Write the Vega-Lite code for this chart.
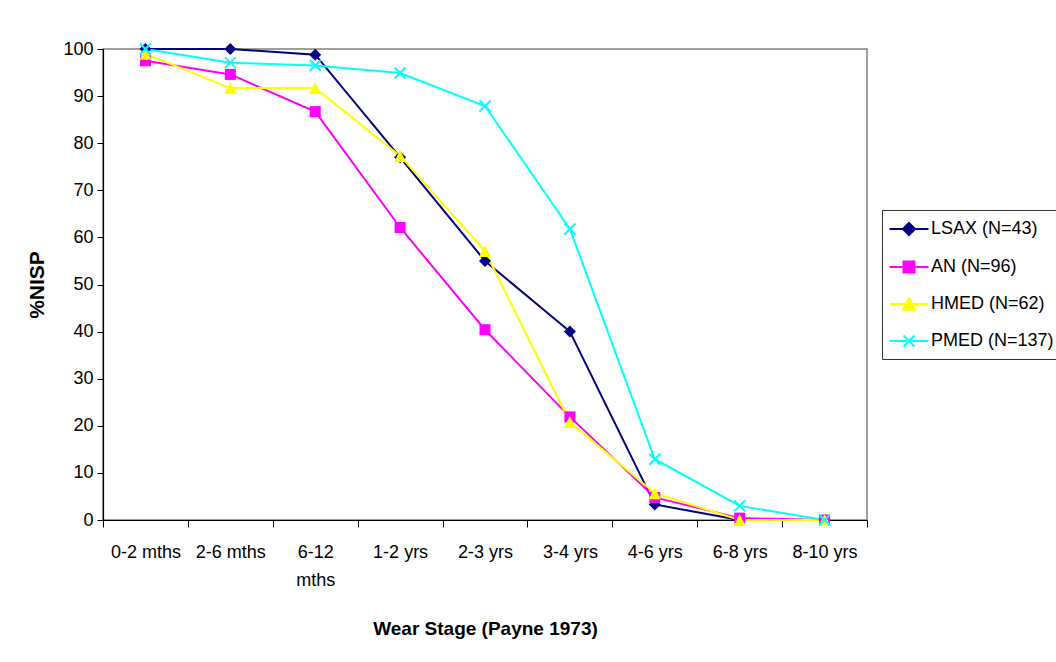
{
  "$schema": "https://vega.github.io/schema/vega-lite/v6.json",
  "autosize": {"type": "none"},
  "padding": {"left": 103, "top": 49, "right": 189, "bottom": 142},
  "width": 764,
  "height": 471,
  "background": "white",
  "config": {
    "font": "Liberation Sans",
    "view": {"stroke": "#808080", "strokeWidth": 1.5},
    "axis": {
      "labelFont": "Liberation Sans",
      "titleFont": "Liberation Sans",
      "labelColor": "black",
      "titleColor": "black",
      "domainColor": "black",
      "tickColor": "black",
      "grid": false
    },
    "legend": {
      "orient": "none",
      "legendX": 779,
      "legendY": 161,
      "padding": 8,
      "rowPadding": 16,
      "symbolOffset": 8,
      "labelOffset": 11,
      "symbolSize": 380,
      "symbolStrokeWidth": 2,
      "symbolOpacity": 1,
      "strokeColor": "#333333",
      "fillColor": "white",
      "labelFont": "Liberation Sans",
      "labelFontSize": 18,
      "labelColor": "black"
    }
  },
  "data": {
    "values": [
      {"stage": "0-2 mths", "series": "LSAX (N=43)", "pct": 100},
      {"stage": "2-6 mths", "series": "LSAX (N=43)", "pct": 100},
      {"stage": "6-12 mths", "series": "LSAX (N=43)", "pct": 98.8},
      {"stage": "1-2 yrs", "series": "LSAX (N=43)", "pct": 77.0},
      {"stage": "2-3 yrs", "series": "LSAX (N=43)", "pct": 55.0},
      {"stage": "3-4 yrs", "series": "LSAX (N=43)", "pct": 40.0},
      {"stage": "4-6 yrs", "series": "LSAX (N=43)", "pct": 3.3},
      {"stage": "6-8 yrs", "series": "LSAX (N=43)", "pct": 0},
      {"stage": "8-10 yrs", "series": "LSAX (N=43)", "pct": 0},
      {"stage": "0-2 mths", "series": "AN (N=96)", "pct": 97.5},
      {"stage": "2-6 mths", "series": "AN (N=96)", "pct": 94.6},
      {"stage": "6-12 mths", "series": "AN (N=96)", "pct": 86.7},
      {"stage": "1-2 yrs", "series": "AN (N=96)", "pct": 62.1},
      {"stage": "2-3 yrs", "series": "AN (N=96)", "pct": 40.4},
      {"stage": "3-4 yrs", "series": "AN (N=96)", "pct": 21.9},
      {"stage": "4-6 yrs", "series": "AN (N=96)", "pct": 4.8},
      {"stage": "6-8 yrs", "series": "AN (N=96)", "pct": 0.4},
      {"stage": "8-10 yrs", "series": "AN (N=96)", "pct": 0},
      {"stage": "0-2 mths", "series": "HMED (N=62)", "pct": 99.0},
      {"stage": "2-6 mths", "series": "HMED (N=62)", "pct": 91.7},
      {"stage": "6-12 mths", "series": "HMED (N=62)", "pct": 91.7},
      {"stage": "1-2 yrs", "series": "HMED (N=62)", "pct": 77.3},
      {"stage": "2-3 yrs", "series": "HMED (N=62)", "pct": 57.1},
      {"stage": "3-4 yrs", "series": "HMED (N=62)", "pct": 20.8},
      {"stage": "4-6 yrs", "series": "HMED (N=62)", "pct": 5.7},
      {"stage": "6-8 yrs", "series": "HMED (N=62)", "pct": 0},
      {"stage": "8-10 yrs", "series": "HMED (N=62)", "pct": 0},
      {"stage": "0-2 mths", "series": "PMED (N=137)", "pct": 100},
      {"stage": "2-6 mths", "series": "PMED (N=137)", "pct": 97.1},
      {"stage": "6-12 mths", "series": "PMED (N=137)", "pct": 96.5},
      {"stage": "1-2 yrs", "series": "PMED (N=137)", "pct": 94.9},
      {"stage": "2-3 yrs", "series": "PMED (N=137)", "pct": 87.9},
      {"stage": "3-4 yrs", "series": "PMED (N=137)", "pct": 61.8},
      {"stage": "4-6 yrs", "series": "PMED (N=137)", "pct": 12.9},
      {"stage": "6-8 yrs", "series": "PMED (N=137)", "pct": 3.0},
      {"stage": "8-10 yrs", "series": "PMED (N=137)", "pct": 0}
    ]
  },
  "encoding": {
    "x": {
      "field": "stage",
      "type": "ordinal",
      "sort": ["0-2 mths", "2-6 mths", "6-12 mths", "1-2 yrs", "2-3 yrs", "3-4 yrs", "4-6 yrs", "6-8 yrs", "8-10 yrs"],
      "scale": {"type": "band", "paddingInner": 0, "paddingOuter": 0},
      "axis": {
        "title": "Wear Stage (Payne 1973)",
        "titleFontSize": 19,
        "titleFontWeight": "bold",
        "titleY": 108,
        "titleBaseline": "middle",
        "labelAngle": 0,
        "labelFontSize": 18,
        "labelPadding": 16,
        "labelLineHeight": 28,
        "labelBaseline": "top",
        "labelExpr": "datum.label == '6-12 mths' ? ['6-12', 'mths'] : datum.label",
        "tickBand": "extent",
        "tickSize": 7,
        "domainWidth": 1.2
      }
    },
    "y": {
      "field": "pct",
      "type": "quantitative",
      "scale": {"domain": [0, 100], "nice": false},
      "axis": {
        "title": "%NISP",
        "titleFontSize": 21,
        "titleFontWeight": "bold",
        "titleX": -66,
        "titleAlign": "center",
        "titleBaseline": "middle",
        "values": [0, 10, 20, 30, 40, 50, 60, 70, 80, 90, 100],
        "labelFontSize": 18,
        "labelPadding": 4,
        "tickSize": 6,
        "domainWidth": 1.2
      }
    },
    "color": {
      "field": "series",
      "type": "nominal",
      "scale": {
        "domain": ["LSAX (N=43)", "AN (N=96)", "HMED (N=62)", "PMED (N=137)"],
        "range": ["#000080", "#FF00FF", "#FFFF00", "#00FFFF"]
      },
      "legend": {"title": null}
    }
  },
  "layer": [
    {
      "mark": {"type": "line", "strokeWidth": 2},
      "encoding": {"detail": {"field": "series"}}
    },
    {
      "transform": [{"filter": "datum.series == 'LSAX (N=43)'"}],
      "mark": {"type": "point", "shape": "diamond", "filled": true, "size": 144, "opacity": 1}
    },
    {
      "transform": [{"filter": "datum.series == 'AN (N=96)'"}],
      "mark": {"type": "point", "shape": "square", "filled": true, "size": 121, "opacity": 1}
    },
    {
      "transform": [{"filter": "datum.series == 'HMED (N=62)'"}],
      "mark": {"type": "point", "shape": "M0,-1L1,1L-1,1Z", "filled": true, "size": 144, "opacity": 1}
    },
    {
      "transform": [{"filter": "datum.series == 'PMED (N=137)'"}],
      "mark": {"type": "point", "shape": "M-1,-1L1,1M1,-1L-1,1", "filled": false, "size": 121, "strokeWidth": 2, "opacity": 1}
    },
    {
      "mark": {"type": "point", "filled": true, "opacity": 0},
      "encoding": {
        "stroke": {
          "field": "series",
          "type": "nominal",
          "scale": {
            "domain": ["LSAX (N=43)", "AN (N=96)", "HMED (N=62)", "PMED (N=137)"],
            "range": ["#000080", "#FF00FF", "#FFFF00", "#00FFFF"]
          },
          "legend": {"title": null}
        },
        "shape": {
          "field": "series",
          "type": "nominal",
          "scale": {
            "domain": ["LSAX (N=43)", "AN (N=96)", "HMED (N=62)", "PMED (N=137)"],
            "range": [
              "M-2,0L2,0M0,-0.62L0.62,0L0,0.62L-0.62,0Z",
              "M-2,0L2,0M-0.56,-0.56L0.56,-0.56L0.56,0.56L-0.56,0.56Z",
              "M-2,0L2,0M0,-0.6L0.64,0.6L-0.64,0.6Z",
              "M-2,0L2,0M-0.56,-0.56L0.56,0.56M0.56,-0.56L-0.56,0.56"
            ]
          },
          "legend": {"title": null}
        }
      }
    }
  ]
}
